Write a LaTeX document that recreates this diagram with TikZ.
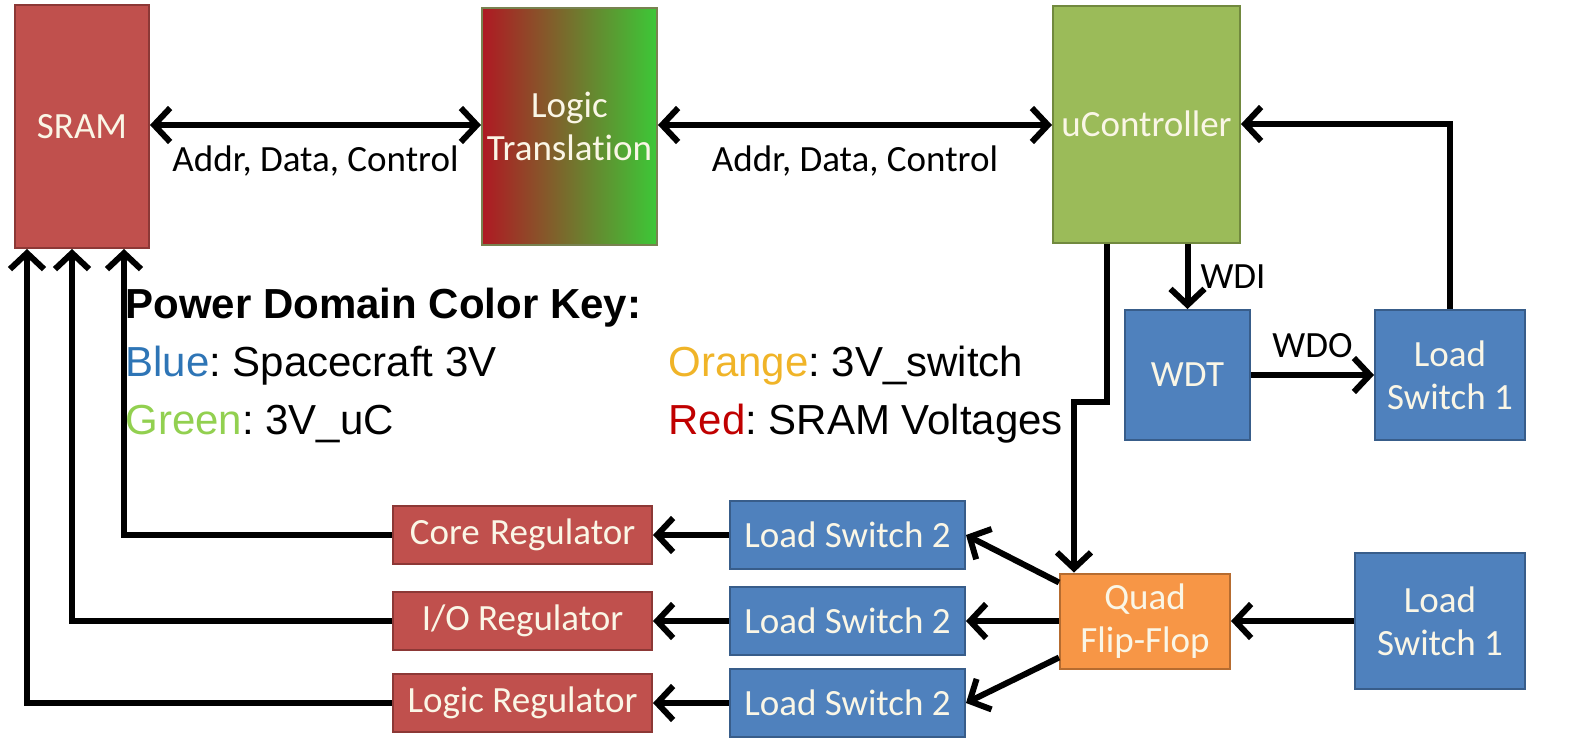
\documentclass[tikz,border=0pt]{standalone}
\usepackage{fontspec}
\setmainfont{Carlito}[Ligatures=NoCommon]
\newfontfamily\keyfont{Liberation Sans}
\usepackage{tikz}
\usetikzlibrary{arrows.meta,positioning}
\frenchspacing

\definecolor{ramred}{RGB}{192,80,77}
\definecolor{ramedge}{RGB}{140,56,54}
\definecolor{ucgreen}{RGB}{155,187,89}
\definecolor{ucedge}{RGB}{113,137,62}
\definecolor{pwrblue}{RGB}{79,129,189}
\definecolor{pwredge}{RGB}{56,93,138}
\definecolor{fforange}{RGB}{247,150,70}
\definecolor{ffedge}{RGB}{182,108,48}
\definecolor{lvlred}{RGB}{175,25,35}
\definecolor{lvlgreen}{RGB}{60,200,55}
\definecolor{lvledge}{RGB}{120,130,80}
\definecolor{boxtext}{RGB}{250,246,230}
\definecolor{keyblue}{RGB}{46,117,182}
\definecolor{keyorange}{RGB}{240,180,40}
\definecolor{keygreen}{RGB}{146,208,80}
\definecolor{keyred}{RGB}{192,0,0}

\newcommand{\boxfont}{\fontsize{18.5}{21.5}\selectfont}
\newcommand{\keysize}{\keyfont\fontsize{21}{25}\selectfont}

\begin{document}
\begin{tikzpicture}[
      x=0.5pt, y=-0.5pt,
      blk/.style={draw, line width=1pt, inner sep=0pt, align=center,
                  font=\boxfont, text=boxtext},
      ram/.style={blk, fill=ramred, draw=ramedge},
      uc/.style={blk, fill=ucgreen, draw=ucedge},
      pwr/.style={blk, fill=pwrblue, draw=pwredge},
      ff/.style={blk, fill=fforange, draw=ffedge},
      reg/.style={ram, minimum width=129.5pt, minimum height=29pt},
      lsw/.style={pwr, minimum width=117.5pt, minimum height=34pt},
      flow/.style={-{Straight Barb[length=8pt,width=17pt]}, line width=3pt},
      bus/.style={{Straight Barb[length=8pt,width=17pt]}-{Straight Barb[length=8pt,width=17pt]},
                  line width=3pt},
      lbl/.style={font=\boxfont, text=black, inner sep=1pt},
      keyline/.style={font=\keysize, anchor=west, inner sep=0pt},
    ]
    \useasboundingbox (0,0) rectangle (1576,741);

    % --- top row: memory, level shifter, controller ------------------------
    \node[ram, minimum width=67pt, minimum height=121.5pt] (sram) at (82,126.5) {SRAM};
    \node[blk, left color=lvlred, right color=lvlgreen, draw=lvledge,
          minimum width=87.5pt, minimum height=118.5pt] (lvl) at (569.5,126.5)
          {Logic\\Translation};
    \node[uc, minimum width=93.5pt, minimum height=118.5pt] (uc) at (1146.5,124)
          {uController};

    \draw[bus] (sram.east |- 0,125) -- node[lbl, below=8pt] {Addr, Data, Control}
               (lvl.west |- 0,125);
    \draw[bus] (lvl.east |- 0,125) -- node[lbl, below=8pt] {Addr, Data, Control}
               (uc.west |- 0,125);

    % --- watchdog loop -----------------------------------------------------
    \node[pwr, minimum width=62.5pt, minimum height=65pt] (wdt) at (1187.5,375) {WDT};
    \node[pwr, minimum width=75pt, minimum height=65pt] (lsa) at (1450,375)
          {Load\\Switch 1};

    \draw[flow] (wdt.north |- uc.south) -- node[lbl, right=4pt] {WDI} (wdt.north);
    \draw[flow] (wdt.east) -- node[lbl, above=6pt] {WDO} (lsa.west);
    \draw[flow] (lsa.north) |- (uc.east);

    % --- power key ---------------------------------------------------------
    \node[keyline, font=\keysize\bfseries] (keyhead) at (125,308)
          {Power Domain Color Key:};
    \node[keyline] (keyb) at (125,366) {{\color{keyblue}Blue}: Spacecraft 3V};
    \node[keyline] (keyg) at (125,424) {{\color{keygreen}Green}: 3V\_uC};
    \node[keyline] (keyo) at (668,366) {{\color{keyorange}Orange}: 3V\_switch};
    \node[keyline] (keyr) at (668,424) {{\color{keyred}Red}: SRAM Voltages};

    % --- flip-flop and switched supplies -----------------------------------
    \node[ff, minimum width=85pt, minimum height=47.5pt] (quad) at (1145,621)
          {Quad\\Flip-Flop};
    \node[pwr, minimum width=85pt, minimum height=68pt] (lsb) at (1440,621)
          {Load\\Switch 1};

    \node[lsw] (lsc) at (847.5,535) {Load Switch 2};
    \node[lsw] (lsd) at (847.5,621) {Load Switch 2};
    \node[lsw] (lse) at (847.5,703) {Load Switch 2};

    \node[reg] (core)  at (522.5,535) {Core\;Regulator};
    \node[reg] (io)    at (522.5,621) {I/O Regulator};
    \node[reg] (logic) at (522.5,703) {Logic Regulator};

    \draw[flow] ([xshift=-20pt]uc.south) -- ++(0,158) -| ([xshift=7.5pt]quad.north west);
    \draw[flow] (lsb.west) -- (quad.east);
    \draw[flow] ([yshift=-5pt]quad.north west) -- (lsc.east);
    \draw[flow] (quad.west) -- (lsd.east);
    \draw[flow] ([yshift=6pt]quad.south west) -- (lse.east);

    \draw[flow] (lsc.west) -- (core.east);
    \draw[flow] (lsd.west) -- (io.east);
    \draw[flow] (lse.west) -- (logic.east);

    % --- regulators feed the SRAM ------------------------------------------
    \draw[flow] (core.west)  -| ([xshift=55pt]sram.south west);
    \draw[flow] (io.west)    -| ([xshift=29pt]sram.south west);
    \draw[flow] (logic.west) -| ([xshift=6.5pt]sram.south west);
  \end{tikzpicture}
\end{document}
